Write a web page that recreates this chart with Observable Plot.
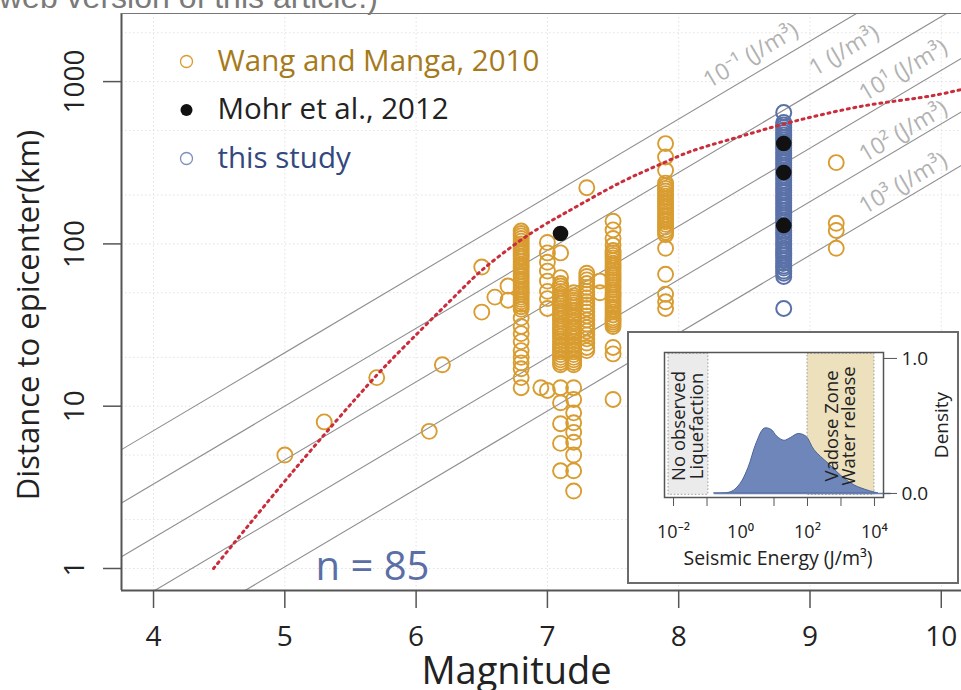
<!DOCTYPE html>
<html><head><meta charset="utf-8">
<script src="https://cdn.jsdelivr.net/npm/d3@7"></script>
<script src="https://cdn.jsdelivr.net/npm/@observablehq/plot@0.6"></script>
<style>
html,body{margin:0;padding:0;background:#fff;overflow:hidden;}
#wrap{position:relative;width:961px;height:690px;overflow:hidden;}
#caption{position:absolute;left:-1px;top:-19px;font-size:32px;line-height:32px;font-family:'Liberation Sans',Arial,sans-serif;color:#7a7a7a;white-space:nowrap;}
#inset{position:absolute;left:627px;top:331px;width:332px;height:253px;border:2px solid #6b6b6b;background:#fff;box-sizing:border-box;}
</style></head><body>
<div id="wrap"><div id="chart"></div><div id="caption">web version of this article.)</div><div id="inset"></div></div>
<script>
// ---------- data ----------
const wangMag = [5.0, 5.3, 5.7, 6.1, 6.2, 6.5, 6.6, 6.7, 6.8, 6.95, 7.0, 7.1, 7.2, 7.3, 7.4, 7.5, 7.9, 9.2];
const wangDist = [
  [5], [8], [15], [7], [18], [72, 38], [47], [55, 45],
  [120,116,112,108,104,100,96.5,93,90,87,84,81,78,75,72.5,70,67.5,65,63,60.5,58.5,56.5,54.5,52.5,50.5,49,47,45.5,44,42.5,41,39.5,35,31,28,25,22,20,18.5,17,15,13],
  [13],
  [102,88,77,68,59,51,46,40,12.5],
  [88,62,57,55,53,51,49,47.5,46,44.5,43,41.5,40,38.5,37,36,34.5,33.5,32,31,30,29,28,27,26,25,24,23.2,22.4,21.6,20.8,20,19.3,18.6,18,13,10.5,7.8,5.9,4],
  [50,48,46.5,45,43.5,42,40.5,39,37.5,36,35,33.5,32.5,31,30,29,28,27,26,25,24,23.2,22.4,21.6,20.8,20,19.3,18.6,18,13,11,9.1,7.9,6.9,6,5,4,3],
  [222,66,63,60,57,54,51,49,46.5,44,42,40,38,36,34,32,30.5,29,27.5,26,24.5,23,22],
  [59,50],
  [138,122,108,98,91,88,85,82,79,76,73.5,71,68.5,66,64,62,60,58,56,54,52,50,48.5,47,45.5,44,42.5,41,39.5,38,36.5,35,34,33,32,31,23,21,11],
  [415,343,284,237,228,220,212,204,197,190,183,176,170,164,158,152,147,142,137,132,127,122,118,114,94,65,49,44,40],
  [317,134,121,94]
];
const mohrMag = [7.1, 8.8, 8.8, 8.8];
const mohrDist = [116, 415, 275, 130];
const studyMag = 8.8;
const studyDist = [645,560,540,521,503,485,468,452,436,421,406,392,378,365,352,340,328,316,305,295,284,274,265,256,247,238,230,222,214,207,199,192,186,179,173,167,161,155,150,145,140,135,130,126,121,117,113,109,105,101,98,94,91,88,85,82,79,76,73,71,68,66,63,40];

const curveMag  = [4.457, 5.066, 5.706, 6.033, 6.262, 6.49, 6.772, 6.97, 7.153, 7.557, 7.838, 8.09, 8.47, 8.874, 9.385, 9.94, 10.154];
const curveDist = [1.0, 4.0, 15.7, 29.3, 44.8, 67.6, 102, 130, 158, 239, 304, 371, 459, 568, 703, 821, 894];

const energyLabels   = ["10⁻¹ (J/m³)", "1 (J/m³)", "10¹ (J/m³)", "10² (J/m³)", "10³ (J/m³)"];
const lineStartMag   = [3.756, 3.756, 3.756, 4.009, 4.697];
const lineStartDist  = [5.4, 2.53, 1.18, 0.7318, 0.7318];
const lineEndMag     = [9.354, 10.04, 10.154, 10.154, 10.154];
const lineEndDist    = [2628, 2628, 1393, 652, 305];
const labelMag       = [8.55, 9.26, 9.71, 9.71, 9.71];
const labelDist      = [1449, 1555, 1171, 493, 236];

const magTicks  = [4, 5, 6, 7, 8, 9, 10];
const distTicks = [1, 10, 100, 1000];
const gridDist  = [1, 2, 5, 10, 20, 50, 100, 200, 500, 1000, 2000];

const legendLabels = ["Wang and Manga, 2010", "Mohr et al., 2012", "this study"];
const sampleText = "n = 85";

// inset data
const densLogE = [-0.78, -0.27, 0.0, 0.24, 0.48, 0.72, 0.93, 1.1, 1.31, 1.5, 1.73, 1.97, 2.21, 2.63, 3.01, 3.4, 3.82, 4.12];
const densVal  = [0, 0.01, 0.07, 0.19, 0.37, 0.48, 0.47, 0.42, 0.39, 0.41, 0.44, 0.42, 0.32, 0.22, 0.13, 0.06, 0.02, 0];
const zoneLabels = ["No observed\nLiquefaction", "Vadose Zone\nWater release"];
const zoneStartLogE = [-2.15, 2.0];
const zoneEndLogE   = [-0.96, 4.0];
const energyTickExp = [-2, -1, 0, 1, 2, 3, 4];
const densTicks = [0, 1];

// ---------- styling ----------
const FONT = "'Open Sans','Noto Sans',sans-serif";
const ORANGE = "#d89c30", BLUE = "#5a71a8", RED = "#c92d3b";
const xDomain = [3.756, 10.154];
const yDomain = [0.7318, 2628];

const wangRows = wangMag.flatMap((m, i) => wangDist[i].map(d => ({m, d})));
const mohrRows = mohrMag.map((m, i) => ({m, d: mohrDist[i]}));
const studyRows = studyDist.map(d => ({m: studyMag, d}));
const curveRows = curveMag.map((m, i) => ({m, d: curveDist[i]}));
const energyRows = energyLabels.map((label, i) => ({label,
  m1: lineStartMag[i], r1: lineStartDist[i], m2: lineEndMag[i], r2: lineEndDist[i],
  lm: labelMag[i], lr: labelDist[i]}));

const legendColors = [{stroke: ORANGE, fill: "none", text: "#a67a1a"},
                      {stroke: "none", fill: "#111", text: "#222"},
                      {stroke: "#7d8fc0", fill: "none", text: "#33487c"}];
const legendMarks = legendLabels.flatMap((label, i) => [
  Plot.dot([label], {frameAnchor: "top-left", dx: 65, dy: 48 + i * 48.5, r: 6,
    stroke: legendColors[i].stroke, fill: legendColors[i].fill, strokeWidth: 1.3}),
  Plot.text([label], {frameAnchor: "top-left", dx: 96, dy: 48 + i * 48.5, text: d => d,
    textAnchor: "start", lineAnchor: "middle", fontSize: 29.5, fill: legendColors[i].text})
]);

const chart = Plot.plot({
  width: 961, height: 690,
  marginLeft: 121, marginRight: 0, marginTop: 13, marginBottom: 100,
  style: {fontFamily: FONT, background: "transparent", overflow: "visible", color: "#222"},
  x: {domain: xDomain, axis: null},
  y: {type: "log", domain: yDomain, axis: null},
  marks: [
    Plot.gridX(magTicks, {stroke: "#e2e2e2", strokeOpacity: 1, strokeDasharray: "1.5,2.5"}),
    Plot.gridY(gridDist, {stroke: "#e2e2e2", strokeOpacity: 1, strokeDasharray: "1.5,2.5"}),
    Plot.link(energyRows, {x1: "m1", y1: "r1", x2: "m2", y2: "r2", stroke: "#8f8f8f", strokeWidth: 1.1, clip: true}),
    Plot.text(energyRows, {x: "lm", y: "lr", text: "label", rotate: -30.7, fontSize: 23, fill: "#b2b2b2"}),
    Plot.dot(wangRows, {x: "m", y: "d", r: 7.5, stroke: ORANGE, strokeWidth: 1.9}),
    Plot.dot(studyRows, {x: "m", y: "d", r: 7.5, stroke: BLUE, strokeWidth: 2}),
    Plot.dot(mohrRows, {x: "m", y: "d", r: 7.8, fill: "#111"}),
    Plot.line(curveRows, {x: "m", y: "d", stroke: RED, strokeWidth: 3, strokeDasharray: "2,4.6", curve: "catmull-rom", clip: true}),
    Plot.ruleX([xDomain[0]], {stroke: "#555", strokeWidth: 2}),
    Plot.ruleY([yDomain[0]], {stroke: "#555", strokeWidth: 2}),
    Plot.ruleY([yDomain[1]], {stroke: "#777", strokeWidth: 1.2}),
    Plot.axisX(magTicks, {tickSize: 18, tickPadding: 18, fontSize: 28, stroke: "#555", strokeWidth: 1.5, fill: "#222", label: null, tickFormat: d => String(d)}),
    Plot.axisY(distTicks, {tickSize: 18, stroke: "#555", strokeWidth: 1.5, fill: "none", label: null}),
    Plot.text(distTicks, {y: d => d, text: d => String(d), frameAnchor: "left", textAnchor: "middle", lineAnchor: "middle", dx: -46, rotate: -90, fontSize: 28, fill: "#222"}),
    Plot.text(["Magnitude"], {frameAnchor: "bottom", text: d => d, textAnchor: "middle", lineAnchor: "middle", dx: -25, dy: 81, fontSize: 38, fill: "#222"}),
    Plot.text(["Distance to epicenter(km)"], {frameAnchor: "left", text: d => d, textAnchor: "middle", lineAnchor: "middle", dx: -92, dy: 13, rotate: -90, fontSize: 31, fill: "#222"}),
    ...legendMarks,
    Plot.text([sampleText], {frameAnchor: "bottom-left", text: d => d, textAnchor: "middle", lineAnchor: "middle", dx: 251, dy: -23, fontSize: 40, fill: "#5b6ea6"})
  ]
});
document.getElementById("chart").appendChild(chart);

// ---------- inset ----------
const sup = {"-": "⁻", "0": "⁰", "1": "¹", "2": "²", "3": "³", "4": "⁴"};
const densRows = densLogE.map((v, i) => ({e: 10 ** v, d: densVal[i]}));
const zoneRows = zoneLabels.map((label, i) => ({label, e1: 10 ** zoneStartLogE[i], e2: 10 ** zoneEndLogE[i],
  ec: 10 ** ((zoneStartLogE[i] + zoneEndLogE[i]) / 2)}));
const zoneFills = ["#ebebeb", "#ece0bd"];
const inset = Plot.plot({
  width: 328, height: 249,
  marginLeft: 35, marginRight: 74, marginTop: 19, marginBottom: 85,
  style: {fontFamily: FONT, background: "transparent", overflow: "visible", color: "#222"},
  x: {type: "log", domain: [10 ** -2.27, 10 ** 4.27], axis: null},
  y: {domain: [-0.03, 1.044], axis: null},
  marks: [
    ...zoneRows.map((z, i) => Plot.rect([z], {x1: "e1", x2: "e2", y1: -0.01, y2: 1.035, fill: zoneFills[i], stroke: "#9a9a9a", strokeWidth: 1, strokeDasharray: "1.5,2"})),
    Plot.areaY(densRows, {x: "e", y: "d", fill: "#6f86ba", stroke: "#4f6599", strokeWidth: 1, curve: "catmull-rom"}),
    Plot.ruleY([0], {x1: 10 ** -0.78, x2: 10 ** 4.5, stroke: "#6a7fb0", strokeWidth: 1.5}),
    Plot.text(zoneRows, {x: "ec", y: 0.5, text: "label", rotate: -90, fontSize: 18.5, lineHeight: 0.95, fill: "#222"}),
    Plot.frame({stroke: "#555", strokeWidth: 1.5}),
    Plot.axisX(energyTickExp.map(p => 10 ** p), {tickSize: 9, tickPadding: 19, fontSize: 18, stroke: "#555", fill: "#222", label: null,
      tickFormat: d => { const p = Math.round(Math.log10(d)); return p % 2 === 0 ? "10" + String(p).split("").map(c => sup[c]).join("") : ""; }}),
    Plot.axisY(densTicks, {anchor: "right", tickSize: 13, tickPadding: 5, fontSize: 19, stroke: "#555", fill: "#222", label: null, tickFormat: d => d.toFixed(1)}),
    Plot.text(["Seismic Energy (J/m³)"], {frameAnchor: "bottom", text: d => d, textAnchor: "middle", lineAnchor: "middle", dy: 61, dx: 4, fontSize: 19.5, fill: "#222"}),
    Plot.text(["Density"], {frameAnchor: "right", text: d => d, textAnchor: "middle", lineAnchor: "middle", dx: 58, rotate: -90, fontSize: 19, fill: "#222"})
  ]
});
document.getElementById("inset").appendChild(inset);
</script></body></html>
